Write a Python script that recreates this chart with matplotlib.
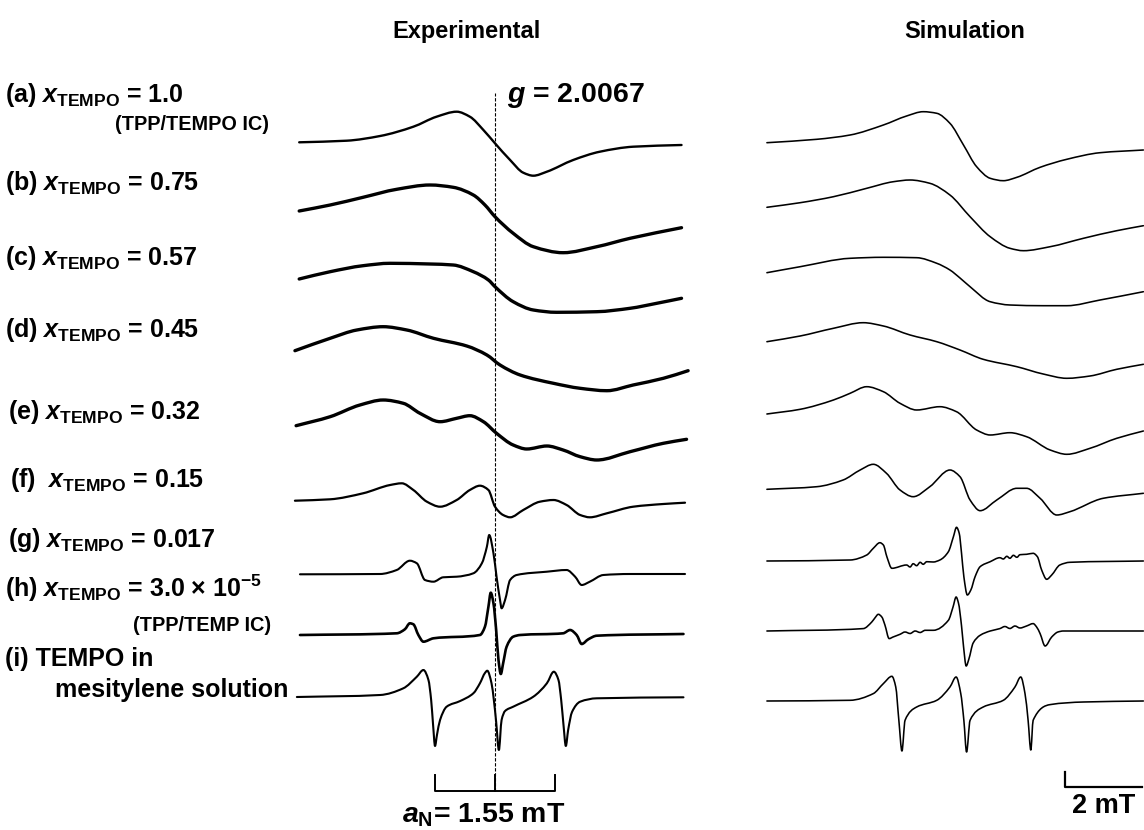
"""
EPR spectra of TPP/TEMPO inclusion compounds: experimental vs. simulated traces.
Field axis in mT relative to the g = 2.0067 position, signal in arbitrary units.
"""
import matplotlib
matplotlib.use('Agg')
import matplotlib.pyplot as plt
from matplotlib.path import Path
from matplotlib.patches import PathPatch

# ---------------------------------------------------------------- data
# experimental spectra (field / mT, derivative signal / a.u.)
exp_a_field = [-5.06, -3.83, -2.97, -2.11, -1.51, -0.99, -0.65, -0.30, 0.00, 0.39, 0.73, 0.99, 1.34, 2.02, 2.71, 3.57, 4.82]
exp_a_signal = [0.7, 2.3, 7, 16.3, 26.3, 31.3, 26.3, 13, -0.3, -17, -29.7, -32.7, -28.7, -17, -8.7, -3.7, -2]

exp_b_field = [-5.06, -4.26, -3.41, -2.54, -1.68, -1.08, -0.56, -0.26, 0.00, 0.47, 0.99, 1.76, 2.63, 3.49, 4.82]
exp_b_signal = [8, 14, 21.7, 29.7, 34, 31.7, 24, 14, 2.3, -14.3, -27.7, -33.7, -27.7, -19.3, -8.7]

exp_c_field = [-5.06, -4.26, -3.41, -2.71, -1.68, -1.08, -0.56, -0.17, 0.00, 0.47, 0.99, 1.59, 2.63, 3.49, 4.18, 4.82]
exp_c_signal = [10, 17.3, 23.3, 25.7, 25, 24, 17.3, 9, 2.3, -12.7, -21, -23.3, -22.7, -19.3, -14.3, -9.3]

exp_d_field = [-5.17, -4.26, -3.57, -2.89, -2.28, -1.59, -0.73, -0.21, 0.13, 0.65, 1.51, 2.20, 2.89, 3.57, 4.35, 4.99]
exp_d_signal = [12.3, 24.7, 33, 36.3, 33, 24.7, 17, 8, -2, -12, -20.3, -25.3, -27.7, -22, -15.3, -7.7]

exp_e_field = [-5.14, -4.26, -3.49, -2.89, -2.37, -1.94, -1.42, -0.99, -0.65, -0.30, 0.04, 0.47, 0.82, 1.34, 1.76, 2.20, 2.63, 3.49, 4.35, 4.95]
exp_e_signal = [8.3, 17.3, 29, 34, 30.7, 20.7, 12.3, 15.7, 18.3, 12.3, 0.7, -11, -15, -12, -16, -22.7, -26, -17.7, -9.3, -5.3]

exp_f_field = [-5.17, -4.26, -3.41, -2.71, -2.41, -2.11, -1.76, -1.42, -0.99, -0.65, -0.39, -0.17, 0.00, 0.21, 0.39, 0.73,
               1.16, 1.51, 1.85, 2.20, 2.45, 2.89, 3.57, 4.35, 4.91]
exp_f_signal = [0.3, 1.7, 7.7, 16, 17.7, 11, -0.7, -5.7, 1, 11, 15.3, 11, -5.7, -14, -16.3, -9,
                -0.7, 1, -4, -14, -16.3, -12.3, -5.7, -3, -1.7]

exp_g_field = [-5.04, -2.97, -2.54, -2.20, -2.02, -1.81, -1.59, -1.34, -0.99, -0.56, -0.34, -0.21, -0.15, -0.04, 0.04, 0.13,
               0.17, 0.26, 0.39, 0.56, 1.34, 1.85, 2.07, 2.24, 2.45, 2.80, 3.49, 4.91]
exp_g_signal = [-0.3, 0, 4, 13.3, 10.7, -6, -7.7, -3.3, -2.7, 0.7, 10.7, 27.3, 39, 20.7, -2.7, -26,
                -34.3, -26, -6, -1, 2.3, 4, -2.7, -11, -7.7, -1, 0, 0]

exp_h_field = [-5.04, -2.54, -2.33, -2.20, -2.11, -1.98, -1.85, -1.59, -0.39, -0.26, -0.17, -0.11, -0.04, 0.03, 0.09, 0.15,
               0.21, 0.30, 0.47, 0.65, 1.76, 1.94, 2.11, 2.24, 2.41, 2.63, 4.87]
exp_h_signal = [0, 1.7, 5.7, 11.7, 10.7, 0, -6.7, -3.3, 0, 8.3, 28.3, 42.3, 31.7, 5, -25, -39,
                -28.3, -11.7, -1.7, 0, 1.7, 5, 0, -9, -4.3, -0.7, 1]

exp_i_field = [-5.12, -2.97, -2.37, -2.02, -1.85, -1.72, -1.65, -1.60, -1.55, -1.50, -1.42, -1.25, -0.90, -0.56, -0.39, -0.26,
               -0.20, -0.09, -0.03, 0.03, 0.10, 0.17, 0.26, 0.47, 0.99, 1.34, 1.52, 1.64, 1.71, 1.77, 1.83, 1.89,
               1.99, 2.20, 2.63, 4.87]
exp_i_signal = [0, 2, 8.7, 20.3, 27, 17, -3, -28, -49, -38, -23, -9.7, -4, 3.7, 13.7, 24,
                26.3, 13.7, -3, -25, -53, -23, -14, -9.7, 0.3, 13.7, 25.3, 17, -3, -28, -49, -33,
                -15, -4.7, -1.3, -0.3]

# simulated spectra
sim_a_field = [-4.99, -3.70, -2.84, -1.98, -1.38, -0.95, -0.60, -0.26, 0.09, 0.43, 0.78, 1.12, 1.47, 2.07, 2.76, 3.62, 4.74]
sim_a_signal = [3.3, 6.7, 11, 21, 30, 34.3, 32.7, 22.7, 1, -20.7, -32.3, -34.7, -31.3, -21.3, -13.3, -6.7, -4]

sim_b_field = [-4.99, -4.13, -3.27, -2.41, -1.72, -1.29, -0.78, -0.26, 0.26, 0.78, 1.29, 1.64, 2.33, 3.19, 4.05, 4.74]
sim_b_signal = [8.7, 13.3, 19.3, 27.7, 34.3, 36, 32.7, 21, -0.7, -20.7, -32.3, -34.7, -30.7, -22.3, -14.7, -9.7]

sim_c_field = [-4.99, -4.13, -2.84, -1.98, -1.12, -0.60, -0.26, 0.00, 0.26, 0.78, 1.29, 2.15, 2.76, 3.62, 4.74]
sim_c_signal = [11.3, 17.3, 25.7, 26.7, 26.3, 20.7, 14, 6, -2.7, -17.7, -21, -21.7, -21.7, -16, -7.7]

sim_d_field = [-4.99, -4.13, -3.27, -2.50, -1.98, -1.29, -0.60, 0.00, 0.60, 1.47, 2.15, 2.76, 3.36, 4.05, 4.74]
sim_d_signal = [10.3, 16, 23.7, 29.3, 26, 17, 10.3, 2, -7.3, -14.7, -22, -26.3, -24, -17.3, -12.3]

sim_e_field = [-4.99, -4.13, -3.27, -2.84, -2.41, -1.98, -1.55, -1.12, -0.52, -0.09, 0.43, 0.78, 1.29, 1.72, 2.33, 2.76,
               3.36, 4.05, 4.74]
sim_e_signal = [10, 14.7, 24, 30.7, 37.3, 32.3, 20.7, 14, 17.3, 12.3, -6, -11, -8.7, -12.7, -26, -30.3,
                -24.3, -14.3, -7]

sim_f_field = [-4.99, -3.70, -3.02, -2.58, -2.24, -1.90, -1.55, -1.21, -0.78, -0.26, 0.00, 0.26, 0.52, 0.95, 1.47, 1.72,
               2.07, 2.50, 2.84, 3.70, 4.74]
sim_f_signal = [2.7, 5.3, 12, 22, 27.7, 18.7, 2, -4.7, 5.3, 22, 15.3, -8, -18.7, -8, 3.7, 3.7,
                -6.3, -23, -19.7, -6.3, -1.3]

sim_g_field = [-4.99, -2.84, -2.41, -2.24, -2.07, -1.98, -1.89, -1.76, -1.38, -1.29, -1.21, -1.12, -1.03, -0.95, -0.86, -0.69,
               -0.52, -0.30, -0.17, -0.09, -0.02, 0.04, 0.10, 0.19, 0.28, 0.39, 0.52, 0.78, 1.03, 1.12, 1.21, 1.29,
               1.38, 1.47, 1.55, 1.72, 1.89, 2.00, 2.11, 2.24, 2.37, 2.58, 2.84, 4.74]
sim_g_signal = [0, 1, 6, 12.7, 18.3, 16, 4.3, -7.3, -4, -6, -2.7, -4.7, -1.3, -3.3, -0.7, -1,
                1, 9.3, 24.3, 33.7, 27.7, 7.7, -15.7, -34, -29, -15.7, -5.7, -0.7, 3.3, 2, 4.7, 2.7,
                5.7, 3.7, 6.3, 6.7, 7.7, 4.3, -9, -18.3, -14, -4, -1.3, 0]

sim_h_field = [-4.99, -2.50, -2.28, -2.20, -2.11, -2.02, -1.94, -1.83, -1.73, -1.55, -1.42, -1.29, -1.16, -1.03, -0.90, -0.69,
               -0.30, -0.18, -0.10, -0.04, 0.04, 0.09, 0.16, 0.23, 0.34, 0.52, 0.78, 1.03, 1.16, 1.29, 1.42, 1.55,
               1.72, 1.89, 1.98, 2.07, 2.20, 2.37, 2.53, 2.67, 4.74]
sim_h_signal = [0, 2.4, 9, 13, 16.7, 14, 6, -7.6, -6, -3.3, -1, -2.5, 0, -1.5, 0.7, 0.7,
                10.7, 24, 34, 28, 5, -15, -35, -28, -12, -4.3, 0, 2.4, 4.5, 2.5, 5, 3,
                5, 7.4, 4, -2.6, -15, -6, -1, 0, 0]

sim_i_field = [-4.99, -2.84, -2.24, -1.98, -1.76, -1.66, -1.58, -1.50, -1.42, -1.12, -0.60, -0.26, -0.10, 0.02, 0.10, 0.17,
               0.26, 0.60, 1.12, 1.42, 1.57, 1.68, 1.76, 1.83, 1.89, 2.33, 3.19, 4.74]
sim_i_signal = [0, 0.7, 7.4, 17.4, 24.7, 14, -19.3, -50, -19.3, -6, 0.7, 14, 24, 7.4, -19.3, -51,
                -19.3, -6, 0.7, 14, 24, 7.4, -19.3, -49, -19.3, -3.6, -1, 0]

# labels
trace_tags = ['(a)', '(b)', '(c)', '(d)', '(e)', '(f) ', '(g)', '(h)']
x_tempo = ['1.0', '0.75', '0.57', '0.45', '0.32', '0.15', '0.017', r'3.0 × 10$^{\mathrm{-5}}$']
a_n = 1.55      # mT, hyperfine splitting bracket
g_value = '2.0067'

# ---------------------------------------------------------------- layout
W, H = 1144, 830
exp_offsets = [687, 611, 541, 467, 396, 329, 256, 195, 133]
sim_offsets = [684, 614, 546, 478, 406, 338, 269, 199, 129]
exp_widths = [1.7, 2.4, 2.4, 2.4, 2.4, 1.6, 1.5, 1.9, 1.5]
label_baselines = [102, 190, 265, 337, 419, 487, 547, 597]
label_lefts = [5, 5, 5, 5, 8, 10, 8, 5]

plt.rcParams['font.family'] = ['Liberation Sans', 'DejaVu Sans']
plt.rcParams['font.weight'] = 'bold'
plt.rcParams['mathtext.fontset'] = 'custom'
plt.rcParams['mathtext.rm'] = 'Liberation Sans:bold'
plt.rcParams['mathtext.it'] = 'Liberation Sans:italic:bold'
plt.rcParams['mathtext.bf'] = 'Liberation Sans:bold'

exp_traces = [(exp_a_field, exp_a_signal), (exp_b_field, exp_b_signal), (exp_c_field, exp_c_signal),
              (exp_d_field, exp_d_signal), (exp_e_field, exp_e_signal), (exp_f_field, exp_f_signal),
              (exp_g_field, exp_g_signal), (exp_h_field, exp_h_signal), (exp_i_field, exp_i_signal)]
sim_traces = [(sim_a_field, sim_a_signal), (sim_b_field, sim_b_signal), (sim_c_field, sim_c_signal),
              (sim_d_field, sim_d_signal), (sim_e_field, sim_e_signal), (sim_f_field, sim_f_signal),
              (sim_g_field, sim_g_signal), (sim_h_field, sim_h_signal), (sim_i_field, sim_i_signal)]


def trace_path(xs, ys):
    """Bezier path through the read points (monotone tangents, no overshoot)."""
    n = len(xs)
    h = [xs[i + 1] - xs[i] for i in range(n - 1)]
    d = [(ys[i + 1] - ys[i]) / h[i] for i in range(n - 1)]
    m = [d[0]] + [0.0] * (n - 2) + [d[-1]]
    for i in range(1, n - 1):
        if d[i - 1] * d[i] > 0:
            w1 = 2 * h[i] + h[i - 1]
            w2 = h[i] + 2 * h[i - 1]
            m[i] = (w1 + w2) / (w1 / d[i - 1] + w2 / d[i])
    verts = [(xs[0], ys[0])]
    codes = [Path.MOVETO]
    for i in range(n - 1):
        verts += [(xs[i] + h[i] / 3, ys[i] + m[i] * h[i] / 3),
                  (xs[i + 1] - h[i] / 3, ys[i + 1] - m[i + 1] * h[i] / 3),
                  (xs[i + 1], ys[i + 1])]
        codes += [Path.CURVE4] * 3
    return Path(verts, codes)


def draw_trace(ax, fld, sig, off, lw):
    p = trace_path(fld, [s + off for s in sig])
    ax.add_patch(PathPatch(p, fill=False, edgecolor='black', lw=lw,
                           joinstyle='round', capstyle='round'))


fig = plt.figure(figsize=(W / 100, H / 100), dpi=100)
ax_txt = fig.add_axes([0, 0, 1, 1])
ax_exp = fig.add_axes([280 / W, 0, 440 / W, 1])
ax_sim = fig.add_axes([740 / W, 0, 404 / W, 1])
for ax in (ax_txt, ax_exp, ax_sim):
    ax.axis('off')
    ax.patch.set_alpha(0)
ax_txt.set_xlim(0, W)
ax_txt.set_ylim(H, 0)
ax_exp.set_xlim(-5.556, 5.814)
ax_sim.set_xlim(-5.685, 4.755)
ax_exp.set_ylim(0, H)
ax_sim.set_ylim(0, H)

# spectra, stacked
for (fld, sig), off, lw in zip(exp_traces, exp_offsets, exp_widths):
    draw_trace(ax_exp, fld, sig, off, lw)
for (fld, sig), off in zip(sim_traces, sim_offsets):
    draw_trace(ax_sim, fld, sig, off, 1.15)

# g marker and a_N bracket
ax_exp.plot([0, 0], [39, 737], color='black', lw=0.8, dashes=(3, 1.5))
ax_exp.plot([-a_n, -a_n, a_n, a_n], [55, 39, 39, 55], color='black', lw=1.4)
ax_exp.plot([0, 0], [39, 55], color='black', lw=1.4)

# 2 mT scale bar for the simulation
ax_sim.plot([2.71, 2.71, 4.71], [58, 43, 43], color='black', lw=1.6)

# text
ax_txt.text(467, 38, 'Experimental', fontsize=17, ha='center', va='baseline')
ax_txt.text(965, 38, 'Simulation', fontsize=17, ha='center', va='baseline')
ax_txt.text(507, 102, '$g$ = ' + g_value, fontsize=20.5, ha='left', va='baseline')

for tag, val, yb, xl in zip(trace_tags, x_tempo, label_baselines, label_lefts):
    ax_txt.text(xl, yb, tag + r' $x_{\mathrm{TEMPO}}$ = ' + val, fontsize=18, ha='left', va='baseline')
ax_txt.text(115, 130, '(TPP/TEMPO IC)', fontsize=14.3, ha='left', va='baseline')
ax_txt.text(133, 631, '(TPP/TEMP IC)', fontsize=14.3, ha='left', va='baseline')
ax_txt.text(5, 666, '(i) TEMPO in', fontsize=18, ha='left', va='baseline')
ax_txt.text(55, 697, 'mesitylene solution', fontsize=18, ha='left', va='baseline')

ax_txt.text(402, 822, r'$a_{\mathrm{N}}$= ' + f'{a_n:.2f} mT', fontsize=20.5, ha='left', va='baseline')
ax_txt.text(1072, 813, '2 mT', fontsize=19.5, ha='left', va='baseline')

fig.savefig('out.png', dpi=100)
plt.close(fig)
